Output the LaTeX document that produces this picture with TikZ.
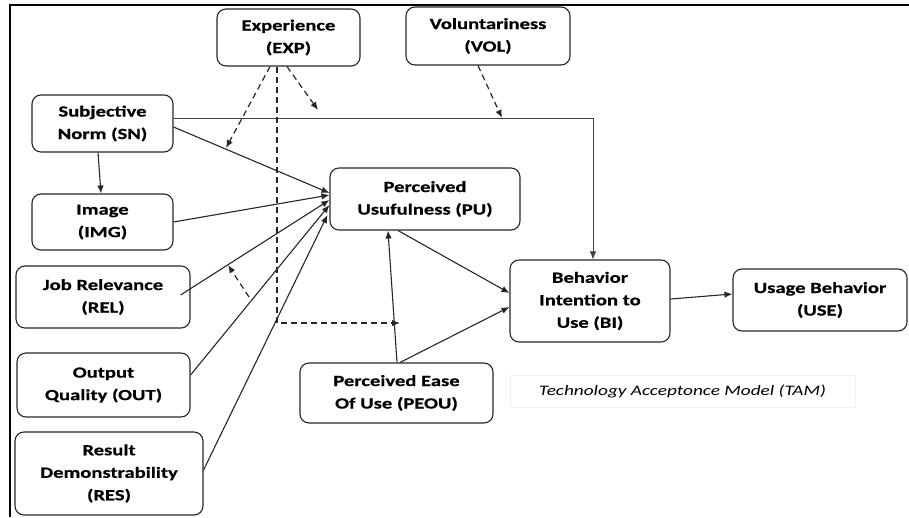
\documentclass[tikz,border=0pt]{standalone}
\usepackage{fontspec}
\setmainfont[FakeStretch=1.33,BoldFeatures={FakeBold=0.6}]{Carlito}
\usetikzlibrary{arrows.meta}
\begin{document}
\begin{tikzpicture}[x=1pt,y=-1pt,
  box/.style={draw=black!85,line width=1.1pt,rounded corners=9pt,align=center,
    font=\fontsize{15.5}{22.5}\selectfont\bfseries,inner sep=0pt},
  conn/.style={line width=1.1pt,draw=black!85,-{Latex[length=8pt,width=6.5pt]}},
  dconn/.style={conn,line width=1.2pt,dash pattern=on 6pt off 4pt}]
\useasboundingbox (0,0) rectangle (909,517);
\draw[line width=2.5pt] (909,5) -- (10,5) -- (10,517);
\node[box,minimum width=143pt,minimum height=57pt] (EXP) at (288.5,37.5) {Experience\\(EXP)};
\node[box,minimum width=164pt,minimum height=58pt] (VOL) at (488,36) {Voluntariness\\(VOL)};
\node[box,minimum width=141pt,minimum height=57pt] (SN) at (102.5,123.5) {Subjective\\Norm (SN)};
\node[box,minimum width=141pt,minimum height=56pt] (IMG) at (102.5,222) {Image\\(IMG)};
\node[box,minimum width=174pt,minimum height=62pt] (REL) at (103,297) {Job Relevance\\(REL)};
\node[box,minimum width=173pt,minimum height=64pt] (OUT) at (103.5,385) {Output\\Quality (OUT)};
\node[box,minimum width=188pt,minimum height=83pt] (RES) at (109,473.5) {Result\\Demonstrability\\(RES)};
\node[box,minimum width=190pt,minimum height=62pt] (PU) at (425,199) {Perceived\\Usufulness (PU)};
\node[box,minimum width=193pt,minimum height=60pt] (PEOU) at (396.5,393) {Perceived Ease\\Of Use (PEOU)};
\node[box,minimum width=160pt,minimum height=82pt] (BI) at (590,301) {Behavior\\Intention to\\Use (BI)};
\node[box,minimum width=174pt,minimum height=62pt] (USE) at (820,300) {Usage Behavior\\(USE)};
\node[draw=black!6,line width=0.8pt,minimum width=345pt,minimum height=32pt,inner sep=0pt,
  font=\fontsize{14.5}{17}\selectfont\itshape] (TAM) at (682.5,391) {Technology Acceptonce Model (TAM)};
% solid connectors
\draw[conn,line width=0.8pt,draw=black!75] ([yshift=5.5pt]SN.east) -| ([xshift=3pt]BI.north);
\draw[conn] ([yshift=-3.5pt]SN.east) -- ([yshift=6pt]PU.west);
\draw[conn] ([xshift=-4.5pt]SN.south) -- ([xshift=-1.5pt]IMG.north);
\draw[conn] (IMG.east) -- ([yshift=4pt]PU.west);
\draw[conn] ([xshift=-10pt,yshift=2pt]REL.east) -- ([yshift=-1pt]PU.west);
\draw[conn] ([yshift=10pt]OUT.east) -- ([yshift=-6pt]PU.west);
\draw[conn] ([yshift=3.5pt]RES.east) -- ([xshift=-2pt,yshift=-16pt]PU.west);
\draw[conn] ([xshift=0.5pt]PEOU.north) -- ([xshift=-37pt]PU.south);
\draw[conn] ([xshift=-27pt]PU.south) -- ([yshift=8pt]BI.west);
\draw[conn] ([xshift=3.5pt]PEOU.north) -- ([yshift=-6pt]BI.west);
\draw[conn] ([yshift=2pt]BI.east) -- ([yshift=6pt]USE.west);
% dashed moderators
\coordinate (m1) at (226,148);
\coordinate (m2) at (318,110);
\coordinate (m3) at (400,323);
\coordinate (m4s) at (249,297);
\coordinate (m4) at (228,265);
\coordinate (m5) at (502,118);
\draw[dconn] ([xshift=-18.5pt]EXP.south) -- (m1);
\draw[dconn] ([xshift=-1.5pt]EXP.south) -- (m2);
\draw[dconn] ([xshift=-11.5pt]EXP.south) |- (m3);
\draw[dconn] (m4s) -- (m4);
\draw[dconn] ([xshift=-10pt]VOL.south) -- (m5);
\end{tikzpicture}
\end{document}
